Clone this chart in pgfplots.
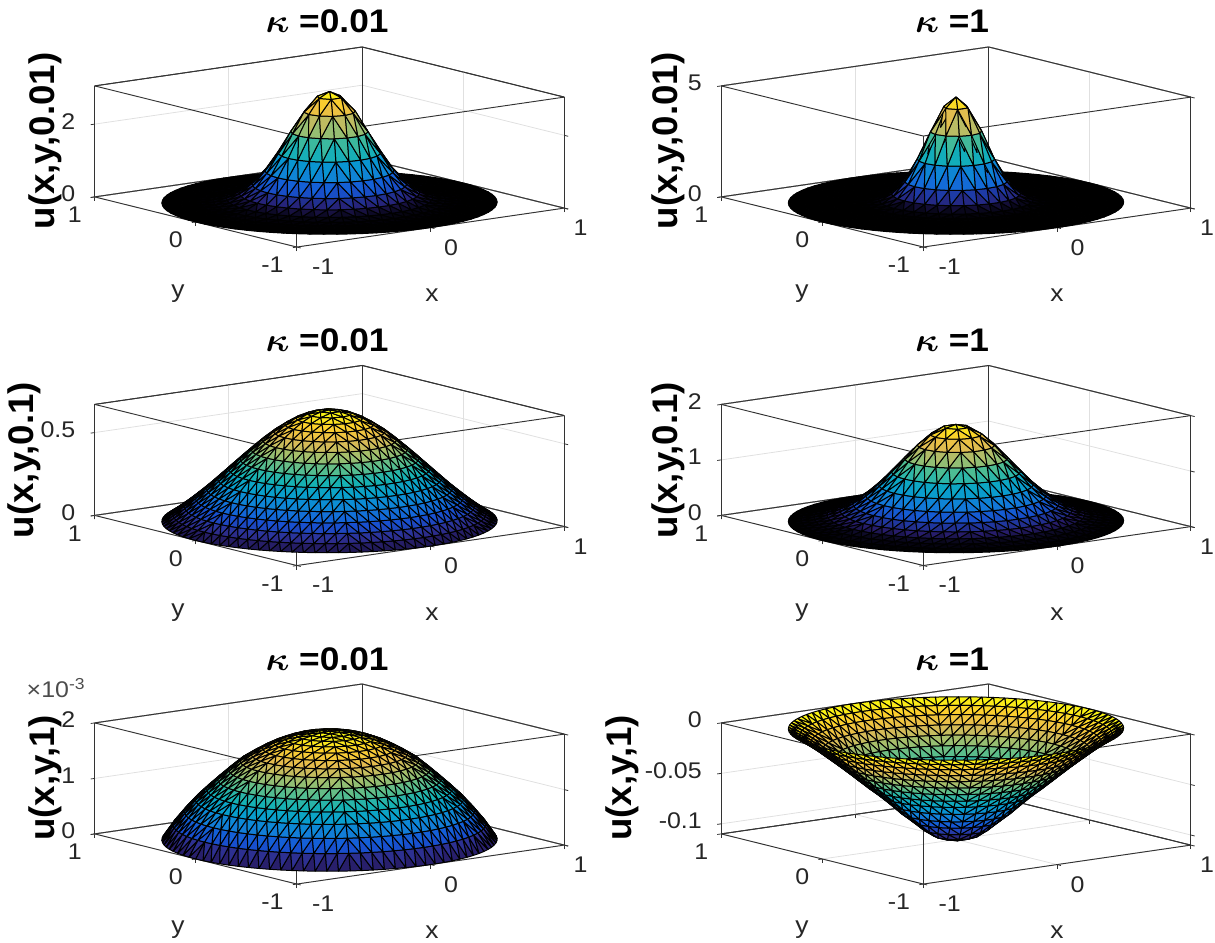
\documentclass[border=0pt]{standalone}
\usepackage{graphicx}
\usepackage{pgfplots}
\usepackage{fontspec}
\setmainfont{Liberation Sans}
\pgfplotsset{compat=1.18}
\def\px{0.75pt}
\def\sx#1{\scalebox{1.1}[1]{#1}}
\pgfplotsset{
  colormap={parulaA}{rgb255=(25,20,70) rgb255=(41,32,109) rgb255=(45,49,148) rgb255=(33,67,185) rgb255=(20,85,215) rgb255=(19,105,215) rgb255=(18,125,216) rgb255=(12,140,212) rgb255=(7,156,207) rgb255=(14,166,194) rgb255=(21,177,180) rgb255=(55,183,160) rgb255=(89,189,140) rgb255=(127,190,124) rgb255=(165,190,107) rgb255=(195,188,95) rgb255=(225,185,82) rgb255=(239,196,64) rgb255=(252,206,46) rgb255=(250,228,30) rgb255=(249,251,14)},
  colormap={parulaB}{rgb255=(0,0,0) rgb255=(9,7,28) rgb255=(40,30,110) rgb255=(32,52,152) rgb255=(25,75,195) rgb255=(20,97,215) rgb255=(18,117,216) rgb255=(14,135,213) rgb255=(9,150,209) rgb255=(11,162,200) rgb255=(18,173,186) rgb255=(40,181,170) rgb255=(75,188,148) rgb255=(110,190,130) rgb255=(150,190,114) rgb255=(185,188,100) rgb255=(215,186,87) rgb255=(232,191,72) rgb255=(248,200,50) rgb255=(251,225,32) rgb255=(249,251,14)},
  meshplot/.style={patch,patch type=triangle,shader=faceted,faceted color=black,line width=0.75pt,z buffer=sort,point meta=z},
  boxedge/.style={draw=black!80,line width=0.7pt,no marks,forget plot},
}
% triangulated disc: rings k=0..N with 6k nodes; the height of a node is the typed value of its ring
\def\pt#1#2{%
  \pgfmathsetmacro\nx{(#1/\N)*cos(60*(#2)/max(#1,1))}%
  \pgfmathsetmacro\ny{(#1/\N)*sin(60*(#2)/max(#1,1))}%
  \xdef\ringT{\unexpanded\expandafter{\ringT}(\nx,\ny,\noexpand\Z{#1})}%
}
\newcommand\buildmesh[1]{%
\gdef\N{#1}\gdef\meshT{}%
\foreach \k in {1,...,\N}{%
  \gdef\ringT{}%
  \pgfmathtruncatemacro\km{\k-1}%
  \foreach \s in {0,...,5}{%
    \foreach \i in {0,...,\km}{%
      \pgfmathtruncatemacro\a{\s*\k+\i}%
      \pgfmathtruncatemacro\b{\a+1}%
      \pgfmathtruncatemacro\c{\s*\km+\i}%
      \pgfmathtruncatemacro\d{\c+1}%
      \pt{\k}{\a}\pt{\k}{\b}\pt{\km}{\c}%
      \ifnum\i<\km\relax \pt{\km}{\c}\pt{\km}{\d}\pt{\k}{\b}\fi
    }%
  }%
  \xdef\meshT{\unexpanded\expandafter{\meshT}\unexpanded\expandafter{\ringT}}%
}\gdef\ringT{}}
\def\Z#1{\csname zv#1\endcsname}
% #1,#2 screen position of data origin; #3 zmin; #4 zmax; #5 zticks; #6 tick labels; #7 z values of the rings; #8 colormap
\newcommand\panel[8]{%
  \foreach[count=\cc from 0] \v in {#7}{\expandafter\xdef\csname zv\cc\endcsname{\v}}%
  \edef\coords{\meshT}%
  \edef\doplot{\noexpand\addplot3[meshplot] coordinates {\coords};}%
  \let\coords\relax
  \pgfmathsetmacro\zu{111*0.75/(#4-(#3))}%
  \begin{axis}[
    at={(#1*\px,-#2*\px)},anchor=origin,
    x={(100.3pt,14.6pt)},y={(-75.8pt,18.8pt)},z={(0pt,\zu pt)},
    xmin=-1,xmax=1,ymin=-1,ymax=1,zmin=#3,zmax=#4,
    clip=false,colormap name=#8,
    axis lines=box,
    axis line style={draw=black!80,line width=0.7pt},
    grid=major,major grid style={black!12,line width=0.6pt},
    tick pos=left,
    tick align=outside,major tick length=3pt,
    tick style={black!80,line width=0.6pt},
    xtick={-1,0,1},ytick={-1,0,1},
    xticklabels={\sx{\hspace*{8pt}-1},\sx{0},\sx{1\hspace*{6pt}}},
    yticklabels={\sx{-1\hspace*{6pt}},\sx{0},\sx{1}},
    ztick={#5},zticklabels={#6},
    tick label style={font=\fontsize{17}{18}\selectfont,text=black!85},
    xticklabel style={anchor=center,inner sep=0pt,xshift=12.5pt,yshift=-14pt},
    yticklabel style={anchor=center,inner sep=0pt,xshift=-12pt,yshift=-13pt},
    zticklabel style={anchor=east,inner sep=0pt,xshift=-11.5pt,yshift=1.5pt},
  ]
  \addplot3[boxedge] coordinates {(-1,-1,#3)(-1,-1,#4)};
  \addplot3[boxedge] coordinates {(-1,1,#4)(-1,-1,#4)(1,-1,#4)};
  \addplot3[boxedge] coordinates {(-1,1,#4)(1,1,#4)(1,-1,#4)};
  \addplot3[boxedge] coordinates {(-1,1,#3)(1,1,#3)(1,-1,#3)};
  \addplot3[boxedge] coordinates {(-1,1,#3)(-1,1,#4)};
  \addplot3[boxedge] coordinates {(1,-1,#3)(1,-1,#4)};
  \addplot3[boxedge] coordinates {(1,1,#3)(1,1,#4)};
  \doplot
  \end{axis}%
  \let\doplot\relax
}
\newcommand\labels[6]{% title x,y; title; zlabel x,y; zlabel
  \node[font=\fontsize{24.5}{25}\selectfont\bfseries\boldmath] at (#1*\px,-#2*\px) {\scalebox{1.08}[1]{$\kappa$ =#3}};
  \node[rotate=90,font=\fontsize{27.5}{28}\selectfont\bfseries] at (#4*\px,-#5*\px) {\scalebox{1}[0.97]{#6}};
}
\newcommand\xy[4]{%
  \node[font=\fontsize{18}{19}\selectfont,text=black!85] at (#1*\px,-#2*\px-2.2pt) {\sx{y}};
  \node[font=\fontsize{18}{19}\selectfont,text=black!85] at (#3*\px,-#4*\px-1.5pt) {\sx{x}};
}
\begin{document}
\begin{tikzpicture}
\path[use as bounding box] (0,0) rectangle (1215*\px,-943*\px);
\buildmesh{15}
% ring heights, r = k/15
\panel{329.5}{521}{0}{0.67}{0,0.5}{\sx{0},\sx{0.5}}{0.67,0.665,0.648,0.621,0.584,0.541,0.49,0.434,0.376,0.316,0.256,0.197,0.142,0.09,0.042,0}{parulaA}
\panel{329.5}{839.5}{0}{2}{0,1,2}{\sx{0},\sx{1},\sx{2}}{1.95,1.943,1.915,1.88,1.82,1.745,1.65,1.54,1.42,1.26,1.09,0.915,0.73,0.515,0.28,0}{parulaA}
\panel{956}{728.5}{-0.11}{0}{-0.1,-0.05,0}{\sx{-0.1},\sx{-0.05},\sx{0}}{-0.11,-0.1092,-0.106,-0.099,-0.0904,-0.082,-0.0725,-0.0635,-0.0553,-0.0467,-0.038,-0.0296,-0.0215,-0.0135,-0.0064,0}{parulaA}
\buildmesh{13}
% ring heights, r = k/13
\panel{329.5}{202.5}{0}{3.05}{0,2}{\sx{0},\sx{2}}{3.05,2.9,2.5,1.95,1.376,0.88,0.51,0.267,0.127,0.054,0.021,0.008,0.002,0}{parulaB}
\panel{956}{202.5}{0}{5}{0,5}{\sx{0},\sx{5}}{4.75,4.3,3.2,1.96,0.98,0.404,0.136,0.038,0.009,0.002,0,0,0,0}{parulaB}
\panel{956}{521}{0}{2}{0,1,2}{\sx{0},\sx{1},\sx{2}}{1.74,1.694,1.56,1.366,1.13,0.89,0.661,0.466,0.312,0.197,0.118,0.067,0.03,0}{parulaB}
\labels{327}{21}{0.01}{45}{141}{u(x,y,0.01)}
\labels{952}{21}{1}{668}{141}{u(x,y,0.01)}
\labels{327}{340}{0.01}{24}{460}{u(x,y,0.1)}
\labels{952}{340}{1}{668}{460}{u(x,y,0.1)}
\labels{327}{659}{0.01}{45}{778}{u(x,y,1)}
\labels{952}{659}{1}{622}{778}{u(x,y,1)}
\xy{178}{291}{432}{293}
\xy{802}{291}{1057}{293}
\xy{178}{610}{432}{612}
\xy{802}{610}{1057}{612}
\xy{178}{927}{432}{930}
\xy{802}{927}{1057}{930}
\node[font=\fontsize{17}{18}\selectfont,text=black!70] at (56*\px,-688*\px) {\sx{×10\textsuperscript{-3}}};
\end{tikzpicture}
\end{document}
